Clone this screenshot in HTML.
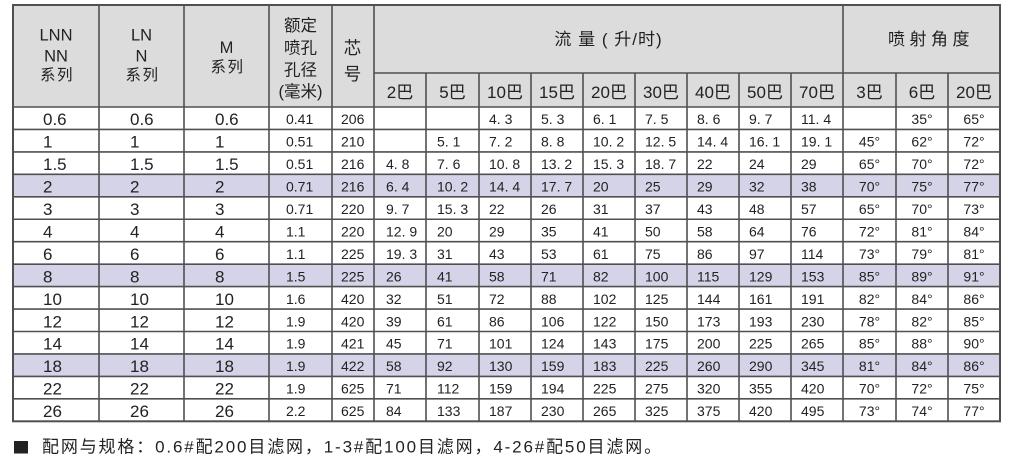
<!DOCTYPE html>
<html><head><meta charset="utf-8"><style>
html,body{margin:0;padding:0;background:#fff;width:1012px;height:461px;overflow:hidden}
svg{display:block}
text{font-family:"Liberation Sans","Noto Sans CJK SC",sans-serif;fill:#222}
.h{font-size:17px}
.d{font-size:14px}
.b{font-size:17px}
</style></head><body>
<svg width="1012" height="461" viewBox="0 0 1012 461" xmlns="http://www.w3.org/2000/svg">
<rect x="13" y="5" width="987" height="102" fill="#dcdcdc"/>
<rect x="13" y="174.35" width="987" height="22.45" fill="#d4d3e8"/>
<rect x="13" y="264.15" width="987" height="22.45" fill="#d4d3e8"/>
<rect x="13" y="353.95" width="987" height="22.45" fill="#d4d3e8"/>
<g stroke="#505050" stroke-width="1.6" fill="none">
<line x1="374" y1="73" x2="1000" y2="73"/>
<line x1="13" y1="107" x2="1000" y2="107"/>
<line x1="13" y1="129.45" x2="1000" y2="129.45"/>
<line x1="13" y1="151.9" x2="1000" y2="151.9"/>
<line x1="13" y1="174.35" x2="1000" y2="174.35"/>
<line x1="13" y1="196.8" x2="1000" y2="196.8"/>
<line x1="13" y1="219.25" x2="1000" y2="219.25"/>
<line x1="13" y1="241.7" x2="1000" y2="241.7"/>
<line x1="13" y1="264.15" x2="1000" y2="264.15"/>
<line x1="13" y1="286.6" x2="1000" y2="286.6"/>
<line x1="13" y1="309.05" x2="1000" y2="309.05"/>
<line x1="13" y1="331.5" x2="1000" y2="331.5"/>
<line x1="13" y1="353.95" x2="1000" y2="353.95"/>
<line x1="13" y1="376.4" x2="1000" y2="376.4"/>
<line x1="13" y1="398.85" x2="1000" y2="398.85"/>
<line x1="99" y1="5" x2="99" y2="421.3"/>
<line x1="184" y1="5" x2="184" y2="421.3"/>
<line x1="269" y1="5" x2="269" y2="421.3"/>
<line x1="332" y1="5" x2="332" y2="421.3"/>
<line x1="374" y1="5" x2="374" y2="421.3"/>
<line x1="426" y1="73" x2="426" y2="421.3"/>
<line x1="479" y1="73" x2="479" y2="421.3"/>
<line x1="531" y1="73" x2="531" y2="421.3"/>
<line x1="583" y1="73" x2="583" y2="421.3"/>
<line x1="635" y1="73" x2="635" y2="421.3"/>
<line x1="687" y1="73" x2="687" y2="421.3"/>
<line x1="739" y1="73" x2="739" y2="421.3"/>
<line x1="791" y1="73" x2="791" y2="421.3"/>
<line x1="843" y1="5" x2="843" y2="421.3"/>
<line x1="896" y1="73" x2="896" y2="421.3"/>
<line x1="948" y1="73" x2="948" y2="421.3"/>
<rect x="13" y="5" width="987" height="416.3" stroke-width="2"/>
</g>

<!-- header -->
<g text-anchor="middle">
<text x="56" y="40.5" style="font-size:16.5px">LNN</text>
<text x="56" y="61.5" style="font-size:16.5px">NN</text>
<text x="57" y="80" style="font-size:15.5px;letter-spacing:1.5px">系列</text>
<text x="141.5" y="40.5" style="font-size:16.5px">LN</text>
<text x="141.5" y="61.5" style="font-size:16.5px">N</text>
<text x="142.5" y="80" style="font-size:15.5px;letter-spacing:1.5px">系列</text>
<text x="226.5" y="53" style="font-size:16.5px">M</text>
<text x="227.5" y="72" style="font-size:15.5px;letter-spacing:1.5px">系列</text>
<text x="300.5" y="31" style="font-size:16.5px">额定</text>
<text x="300.5" y="53.5" style="font-size:16.5px">喷孔</text>
<text x="300.5" y="75.5" style="font-size:16.5px">孔径</text>
<text x="300.5" y="97" style="font-size:16.5px">(毫米)</text>
<text x="352.5" y="54" style="font-size:17.5px">芯</text>
<text x="352.5" y="80" style="font-size:17.5px">号</text>
<text x="608.5" y="45" style="font-size:17px;letter-spacing:1px">流 量 ( 升/时)</text>
</g>
<text x="888" y="45" style="font-size:17px;letter-spacing:4.5px">喷射角度</text>
<g text-anchor="middle" class="h">
<text x="400" y="98">2巴</text>
<text x="452.5" y="98">5巴</text>
<text x="505" y="98">10巴</text>
<text x="557" y="98">15巴</text>
<text x="609" y="98">20巴</text>
<text x="661" y="98">30巴</text>
<text x="713" y="98">40巴</text>
<text x="765" y="98">50巴</text>
<text x="817" y="98">70巴</text>
<text x="869.5" y="98">3巴</text>
<text x="922" y="98">6巴</text>
<text x="974" y="98">20巴</text>
</g>

<!-- body rows -->
<g class="b">
<text x="43" y="125">0.6</text><text x="130" y="125">0.6</text><text x="215" y="125">0.6</text>
<text x="43" y="147.5">1</text><text x="130" y="147.5">1</text><text x="215" y="147.5">1</text>
<text x="43" y="170">1.5</text><text x="130" y="170">1.5</text><text x="215" y="170">1.5</text>
<text x="43" y="192.5">2</text><text x="130" y="192.5">2</text><text x="215" y="192.5">2</text>
<text x="43" y="215">3</text><text x="130" y="215">3</text><text x="215" y="215">3</text>
<text x="43" y="237.5">4</text><text x="130" y="237.5">4</text><text x="215" y="237.5">4</text>
<text x="43" y="260">6</text><text x="130" y="260">6</text><text x="215" y="260">6</text>
<text x="43" y="282.4">8</text><text x="130" y="282.4">8</text><text x="215" y="282.4">8</text>
<text x="43" y="304.8">10</text><text x="130" y="304.8">10</text><text x="215" y="304.8">10</text>
<text x="43" y="327.3">12</text><text x="130" y="327.3">12</text><text x="215" y="327.3">12</text>
<text x="43" y="349.7">14</text><text x="130" y="349.7">14</text><text x="215" y="349.7">14</text>
<text x="43" y="372.2">18</text><text x="130" y="372.2">18</text><text x="215" y="372.2">18</text>
<text x="43" y="394.6">22</text><text x="130" y="394.6">22</text><text x="215" y="394.6">22</text>
<text x="43" y="417.1">26</text><text x="130" y="417.1">26</text><text x="215" y="417.1">26</text>
</g>

<g class="d">
<text x="286" y="124.2">0.41</text><text x="341" y="124.2">206</text>
<text x="489" y="124.2">4. 3</text><text x="541" y="124.2">5. 3</text><text x="593" y="124.2">6. 1</text><text x="645" y="124.2">7. 5</text><text x="697" y="124.2">8. 6</text><text x="749" y="124.2">9. 7</text><text x="801" y="124.2">11. 4</text>
<text x="286" y="146.7">0.51</text><text x="341" y="146.7">210</text>
<text x="437" y="146.7">5. 1</text><text x="489" y="146.7">7. 2</text><text x="541" y="146.7">8. 8</text><text x="593" y="146.7">10. 2</text><text x="645" y="146.7">12. 5</text><text x="697" y="146.7">14. 4</text><text x="749" y="146.7">16. 1</text><text x="801" y="146.7">19. 1</text>
<text x="286" y="169.1">0.51</text><text x="341" y="169.1">216</text>
<text x="386" y="169.1">4. 8</text><text x="437" y="169.1">7. 6</text><text x="489" y="169.1">10. 8</text><text x="541" y="169.1">13. 2</text><text x="593" y="169.1">15. 3</text><text x="645" y="169.1">18. 7</text><text x="697" y="169.1">22</text><text x="749" y="169.1">24</text><text x="801" y="169.1">29</text>
<text x="286" y="191.6">0.71</text><text x="341" y="191.6">216</text>
<text x="386" y="191.6">6. 4</text><text x="437" y="191.6">10. 2</text><text x="489" y="191.6">14. 4</text><text x="541" y="191.6">17. 7</text><text x="593" y="191.6">20</text><text x="645" y="191.6">25</text><text x="697" y="191.6">29</text><text x="749" y="191.6">32</text><text x="801" y="191.6">38</text>
<text x="286" y="214">0.71</text><text x="341" y="214">220</text>
<text x="386" y="214">9. 7</text><text x="437" y="214">15. 3</text><text x="489" y="214">22</text><text x="541" y="214">26</text><text x="593" y="214">31</text><text x="645" y="214">37</text><text x="697" y="214">43</text><text x="749" y="214">48</text><text x="801" y="214">57</text>
<text x="286" y="236.5">1.1</text><text x="341" y="236.5">220</text>
<text x="386" y="236.5">12. 9</text><text x="437" y="236.5">20</text><text x="489" y="236.5">29</text><text x="541" y="236.5">35</text><text x="593" y="236.5">41</text><text x="645" y="236.5">50</text><text x="697" y="236.5">58</text><text x="749" y="236.5">64</text><text x="801" y="236.5">76</text>
<text x="286" y="258.9">1.1</text><text x="341" y="258.9">225</text>
<text x="386" y="258.9">19. 3</text><text x="437" y="258.9">31</text><text x="489" y="258.9">43</text><text x="541" y="258.9">53</text><text x="593" y="258.9">61</text><text x="645" y="258.9">75</text><text x="697" y="258.9">86</text><text x="749" y="258.9">97</text><text x="801" y="258.9">114</text>
<text x="286" y="281.4">1.5</text><text x="341" y="281.4">225</text>
<text x="386" y="281.4">26</text><text x="437" y="281.4">41</text><text x="489" y="281.4">58</text><text x="541" y="281.4">71</text><text x="593" y="281.4">82</text><text x="645" y="281.4">100</text><text x="697" y="281.4">115</text><text x="749" y="281.4">129</text><text x="801" y="281.4">153</text>
<text x="286" y="303.8">1.6</text><text x="341" y="303.8">420</text>
<text x="386" y="303.8">32</text><text x="437" y="303.8">51</text><text x="489" y="303.8">72</text><text x="541" y="303.8">88</text><text x="593" y="303.8">102</text><text x="645" y="303.8">125</text><text x="697" y="303.8">144</text><text x="749" y="303.8">161</text><text x="801" y="303.8">191</text>
<text x="286" y="326.3">1.9</text><text x="341" y="326.3">420</text>
<text x="386" y="326.3">39</text><text x="437" y="326.3">61</text><text x="489" y="326.3">86</text><text x="541" y="326.3">106</text><text x="593" y="326.3">122</text><text x="645" y="326.3">150</text><text x="697" y="326.3">173</text><text x="749" y="326.3">193</text><text x="801" y="326.3">230</text>
<text x="286" y="348.7">1.9</text><text x="341" y="348.7">421</text>
<text x="386" y="348.7">45</text><text x="437" y="348.7">71</text><text x="489" y="348.7">101</text><text x="541" y="348.7">124</text><text x="593" y="348.7">143</text><text x="645" y="348.7">175</text><text x="697" y="348.7">200</text><text x="749" y="348.7">225</text><text x="801" y="348.7">265</text>
<text x="286" y="371.2">1.9</text><text x="341" y="371.2">422</text>
<text x="386" y="371.2">58</text><text x="437" y="371.2">92</text><text x="489" y="371.2">130</text><text x="541" y="371.2">159</text><text x="593" y="371.2">183</text><text x="645" y="371.2">225</text><text x="697" y="371.2">260</text><text x="749" y="371.2">290</text><text x="801" y="371.2">345</text>
<text x="286" y="393.6">1.9</text><text x="341" y="393.6">625</text>
<text x="386" y="393.6">71</text><text x="437" y="393.6">112</text><text x="489" y="393.6">159</text><text x="541" y="393.6">194</text><text x="593" y="393.6">225</text><text x="645" y="393.6">275</text><text x="697" y="393.6">320</text><text x="749" y="393.6">355</text><text x="801" y="393.6">420</text>
<text x="286" y="416.1">2.2</text><text x="341" y="416.1">625</text>
<text x="386" y="416.1">84</text><text x="437" y="416.1">133</text><text x="489" y="416.1">187</text><text x="541" y="416.1">230</text><text x="593" y="416.1">265</text><text x="645" y="416.1">325</text><text x="697" y="416.1">375</text><text x="749" y="416.1">420</text><text x="801" y="416.1">495</text>
</g>

<g class="d" text-anchor="middle">
<text x="922" y="124.2">35°</text><text x="974" y="124.2">65°</text>
<text x="869.5" y="146.7">45°</text><text x="922" y="146.7">62°</text><text x="974" y="146.7">72°</text>
<text x="869.5" y="169.1">65°</text><text x="922" y="169.1">70°</text><text x="974" y="169.1">72°</text>
<text x="869.5" y="191.6">70°</text><text x="922" y="191.6">75°</text><text x="974" y="191.6">77°</text>
<text x="869.5" y="214">65°</text><text x="922" y="214">70°</text><text x="974" y="214">73°</text>
<text x="869.5" y="236.5">72°</text><text x="922" y="236.5">81°</text><text x="974" y="236.5">84°</text>
<text x="869.5" y="258.9">73°</text><text x="922" y="258.9">79°</text><text x="974" y="258.9">81°</text>
<text x="869.5" y="281.4">85°</text><text x="922" y="281.4">89°</text><text x="974" y="281.4">91°</text>
<text x="869.5" y="303.8">82°</text><text x="922" y="303.8">84°</text><text x="974" y="303.8">86°</text>
<text x="869.5" y="326.3">78°</text><text x="922" y="326.3">82°</text><text x="974" y="326.3">85°</text>
<text x="869.5" y="348.7">85°</text><text x="922" y="348.7">88°</text><text x="974" y="348.7">90°</text>
<text x="869.5" y="371.2">81°</text><text x="922" y="371.2">84°</text><text x="974" y="371.2">86°</text>
<text x="869.5" y="393.6">70°</text><text x="922" y="393.6">72°</text><text x="974" y="393.6">75°</text>
<text x="869.5" y="416.1">73°</text><text x="922" y="416.1">74°</text><text x="974" y="416.1">77°</text>
</g>

<!-- footer -->
<rect x="14" y="441" width="14" height="12.5" fill="#222"/>
<text x="42" y="452.5" style="font-size:17px;letter-spacing:1.85px;fill:#222">配网与规格：0.6#配200目滤网，1-3#配100目滤网，4-26#配50目滤网。</text>
</svg>
</body></html>
